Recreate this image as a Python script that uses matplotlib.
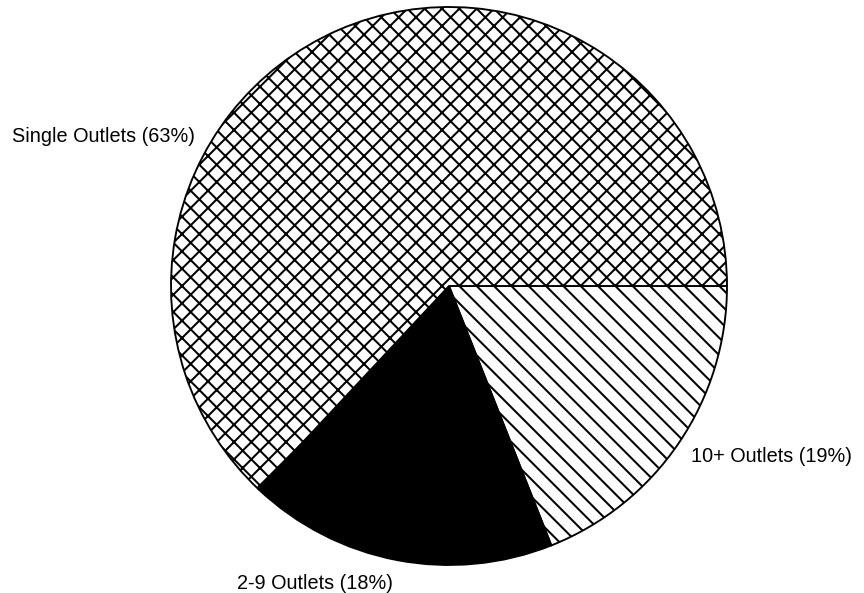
import matplotlib
matplotlib.use("Agg")
import matplotlib.pyplot as plt

labels = ["10+ Outlets (19%)", "2-9 Outlets (18%)", "Single Outlets (63%)"]
shares = [19, 18, 63]
hatches = ["\\", "", "x"]
fills = ["white", "black", "white"]

plt.rcParams["font.family"] = ["Liberation Sans", "DejaVu Sans"]
plt.rcParams["hatch.linewidth"] = 2.8
plt.rcParams["hatch.color"] = "black"

# low dpi keeps the hatch lines close together
dpi = 52
fig = plt.figure(figsize=(864 / dpi, 593 / dpi), dpi=dpi)
ax = fig.add_axes([171 / 864, (593 - 565) / 593, 556 / 864, 558 / 593])

wedges, _ = ax.pie(shares, startangle=0, counterclock=False, colors=fills,
                   wedgeprops=dict(edgecolor="black", linewidth=2.6))
for w, h in zip(wedges, hatches):
    w.set_hatch(h)

ax.set_xlim(-1, 1)
ax.set_ylim(-1, 1)
ax.set_aspect("auto")
ax.axis("off")

# labels sit just outside the rim of each slice
fs = 27.5
ax.text(0.871, -0.612, labels[0], ha="left", va="center", fontsize=fs)
ax.text(-0.763, -1.065, labels[1], ha="left", va="center", fontsize=fs, clip_on=False)
ax.text(-0.915, 0.537, labels[2], ha="right", va="center", fontsize=fs)

fig.savefig("out.png", dpi=dpi)
